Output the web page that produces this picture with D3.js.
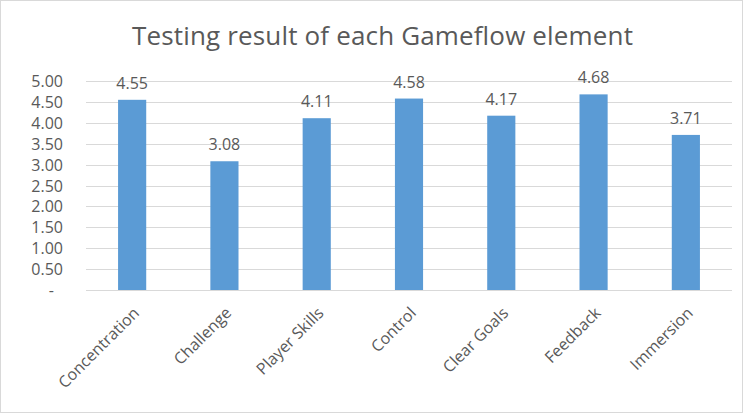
<!DOCTYPE html>
<html>
<head>
<meta charset="utf-8">
<script src="https://cdn.jsdelivr.net/npm/d3@7"></script>
<style>
  body { margin: 0; background: #fff; }
  text { font-family: "Open Sans", "Liberation Sans", sans-serif; fill: #595959; }
</style>
</head>
<body>
<svg id="chart"></svg>
<script>
const categories = ["Concentration", "Challenge", "Player Skills", "Control", "Clear Goals", "Feedback", "Immersion"];
const scores = [4.55, 3.08, 4.11, 4.58, 4.17, 4.68, 3.71];
const yTicks = [0, 0.5, 1, 1.5, 2, 2.5, 3, 3.5, 4, 4.5, 5];
const yTickLabels = ["-\u2007", "0.50", "1.00", "1.50", "2.00", "2.50", "3.00", "3.50", "4.00", "4.50", "5.00"];

const width = 743;
const height = 413;
const margin = { top: 81, right: 11, bottom: 123, left: 86 };

const svg = d3.select("#chart").attr("width", width).attr("height", height);

svg.append("rect")
  .attr("x", 0.5).attr("y", 0.5)
  .attr("width", width - 1).attr("height", height - 1)
  .attr("fill", "#fff").attr("stroke", "#d9d9d9");

svg.append("text")
  .attr("x", 382.5).attr("y", 45)
  .attr("text-anchor", "middle")
  .attr("textLength", 501)
  .style("font-size", "26px")
  .text("Testing result of each Gameflow element");

const xScale = d3.scaleBand().domain(categories).range([margin.left, width - margin.right]);
const yScale = d3.scaleLinear().domain([0, 5]).range([height - margin.bottom, margin.top]);

// gridlines
svg.append("g")
  .selectAll("line")
  .data(yTicks)
  .enter()
  .append("line")
  .attr("x1", margin.left).attr("x2", width - margin.right)
  .attr("y1", (d) => Math.round(yScale(d)) + 0.5)
  .attr("y2", (d) => Math.round(yScale(d)) + 0.5)
  .attr("stroke", "#d9d9d9");

// y labels
svg.append("g")
  .selectAll("text")
  .data(yTicks)
  .enter()
  .append("text")
  .attr("x", 63)
  .attr("y", (d) => yScale(d) + 6)
  .attr("text-anchor", "end")
  .style("font-size", "16px")
  .text((d, i) => yTickLabels[i]);

const barW = xScale.bandwidth() * 0.305;

svg.append("g")
  .selectAll("rect")
  .data(scores)
  .enter()
  .append("rect")
  .attr("x", (d, i) => xScale(categories[i]) + xScale.bandwidth() / 2 - barW / 2)
  .attr("y", (d) => yScale(d))
  .attr("width", barW)
  .attr("height", (d) => yScale(0) - yScale(d))
  .attr("fill", "#5b9bd5");

// value labels
svg.append("g")
  .selectAll("text")
  .data(scores)
  .enter()
  .append("text")
  .attr("x", (d, i) => xScale(categories[i]) + xScale.bandwidth() / 2)
  .attr("y", (d) => yScale(d) - 11)
  .attr("text-anchor", "middle")
  .style("font-size", "16px")
  .text((d) => d.toFixed(2));

// category labels
svg.append("g")
  .selectAll("text")
  .data(categories)
  .enter()
  .append("text")
  .attr("transform", (d) => `translate(${xScale(d) + xScale.bandwidth() / 2 + 8},${yScale(0) + 24}) rotate(-45)`)
  .attr("text-anchor", "end")
  .style("font-size", "16px")
  .text((d) => d);
</script>
</body>
</html>
